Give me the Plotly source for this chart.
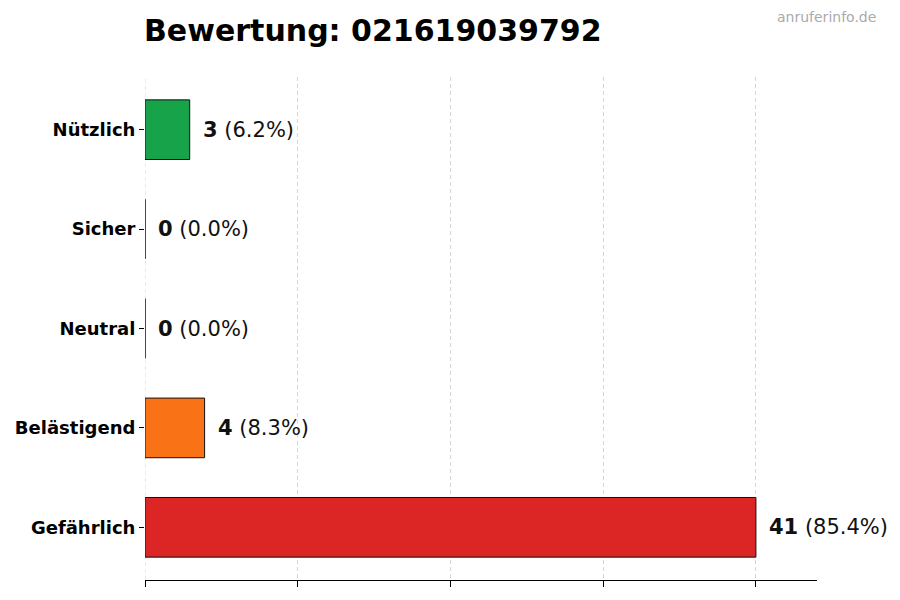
import plotly.graph_objects as go

# Daten
categories = ["Gefährlich", "Belästigend", "Neutral", "Sicher", "Nützlich"]
counts = [41, 4, 0, 0, 3]
percents = ["85.4%", "8.3%", "0.0%", "0.0%", "6.2%"]
colors = ["#dc2626", "#f97316", "#9ca3af", "#3b82f6", "#16a34a"]

max_count = max(counts)
tick_vals = [max_count * i / 4 for i in range(5)]

W, H = 900, 600
L, R, T, B = 145, 83, 77, 20

fig = go.Figure()
fig.add_trace(go.Bar(
    y=categories,
    x=counts,
    orientation="h",
    width=0.6,
    marker=dict(color=colors, line=dict(color="#111111", width=1)),
    hoverinfo="skip",
))

# Beschriftungen rechts neben den Balken
for cat, c, p in zip(categories, counts, percents):
    fig.add_annotation(
        x=c, y=cat, xref="x", yref="y",
        text=f"<b>{c}</b> ({p})",
        showarrow=False, xanchor="left", xshift=11,
        font=dict(family="DejaVu Sans", size=21, color="#111111"),
    )

# Wasserzeichen oben rechts
fig.add_annotation(
    x=(878 - L) / (W - L - R), y=(H - B - 17) / (H - T - B),
    xref="paper", yref="paper",
    text="anruferinfo.de", showarrow=False, xanchor="right", yanchor="middle",
    font=dict(family="DejaVu Sans", size=14, color="#aaaaaa"),
)

# gestrichelte Linie bei 0 (Plotly lässt das Gitter am Rand weg)
fig.add_shape(
    type="line", xref="x", yref="y domain",
    x0=0, x1=0, y0=0, y1=1,
    line=dict(color="#d6d6d6", width=1, dash="4px,3px"),
    layer="below",
)

fig.update_layout(
    width=W, height=H,
    margin=dict(l=L, r=R, t=T, b=B),
    plot_bgcolor="white", paper_bgcolor="white",
    showlegend=False,
    title=dict(
        text="<b>Bewertung: 021619039792</b>",
        x=(L - 1) / W, xanchor="left",
        y=1 - 30 / H, yanchor="middle",
        font=dict(family="DejaVu Sans", size=30, color="#000000"),
    ),
    font=dict(family="DejaVu Sans"),
)

fig.update_xaxes(
    range=[0, max_count * 1.1],
    tickvals=tick_vals, showticklabels=False,
    ticks="outside", ticklen=6, tickcolor="#000000",
    showgrid=True, gridcolor="#d6d6d6", griddash="4px,3px", gridwidth=1,
    showline=True, linecolor="#000000", linewidth=1.2,
    zeroline=False, automargin=False,
)
fig.update_yaxes(
    range=[-0.53, 4.53],
    ticks="outside", ticklen=5, tickcolor="#000000",
    ticklabelstandoff=0, automargin=False,
    tickfont=dict(family="DejaVu Sans", size=18, color="#000000", weight="bold"),
    showgrid=False, showline=False, zeroline=False,
)

fig.write_html(
    "out.html",
    config={"displayModeBar": False},
    post_script="document.body.style.margin='0';",
)
